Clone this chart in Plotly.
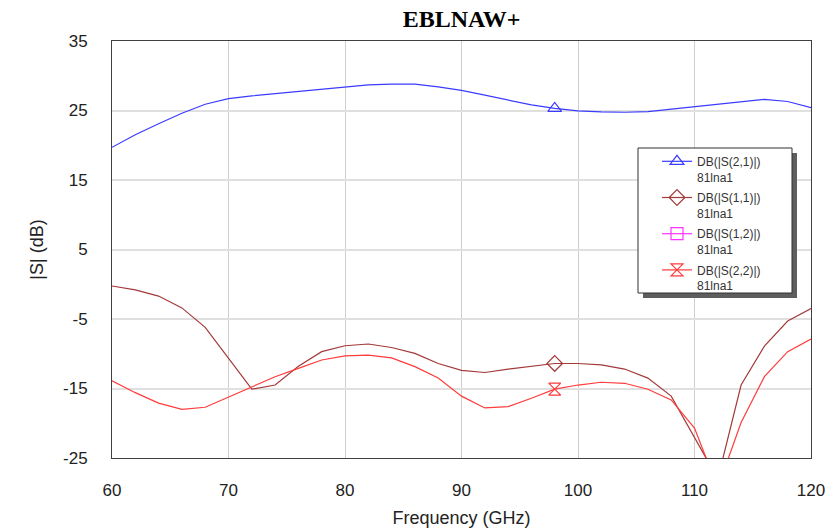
import plotly.graph_objects as go

# Frequency sweep (GHz) and S-parameter magnitudes (dB) of the 81lna1 amplifier
freq_ghz = [60, 62, 64, 66, 68, 70, 72, 74, 76, 78, 80, 82, 84, 86, 88, 90,
            92, 94, 96, 98, 100, 102, 104, 106, 108, 110, 112, 114, 116, 118, 120]

s21_db = [19.7, 21.5, 23.1, 24.6, 25.9, 26.7, 27.1, 27.4, 27.7, 28.0, 28.4,
          28.7, 28.8, 28.8, 28.4, 27.9, 27.2, 26.5, 25.8, 25.3, 24.95, 24.8,
          24.75, 24.85, 25.2, 25.55, 25.95, 26.35, 26.6, 26.3, 25.4]

s11_db = [-0.25, -0.8, -1.7, -3.4, -6.2, -10.6, -15.1, -14.5, -11.8, -9.7, -8.85,
          -8.6, -9.1, -9.95, -11.4, -12.4, -12.7, -12.2, -11.8, -11.4, -11.4, -11.6,
          -12.2, -13.5, -16.1, -21.9, -28.0, -14.5, -8.9, -5.3, -3.5]

s22_db = [-13.9, -15.6, -17.1, -18.0, -17.7, -16.2, -14.7, -13.3, -12.1, -10.9, -10.3,
          -10.2, -10.6, -11.85, -13.5, -16.1, -17.8, -17.6, -16.4, -15.1, -14.5, -14.1,
          -14.25, -15.1, -16.65, -20.7, -29.3, -19.9, -13.3, -9.7, -7.9]

# S(1,2) stays below the plotted floor over the whole sweep
s12_db = []

marker_freq = 98
y_ticks = [-25, -15, -5, 5, 15, 25, 35]
y_tick_text = ["-25", "-15", "-5", "5", "15", "25", "35"]
x_ticks = [60, 70, 80, 90, 100, 110, 120]

series = [
    ("DB(|S(2,1)|)", s21_db, "#3b3bff", "triangle-up-open"),
    ("DB(|S(1,1)|)", s11_db, "#a33a3a", "diamond-open"),
    ("DB(|S(1,2)|)", s12_db, "#ff33ff", "square-open"),
    ("DB(|S(2,2)|)", s22_db, "#ff3b3b", "hourglass-open"),
]

fig = go.Figure()
mi = freq_ghz.index(marker_freq)
for i, (name, vals, color, sym) in enumerate(series):
    if vals:
        fig.add_trace(go.Scatter(
            x=freq_ghz, y=vals, mode="lines", showlegend=False,
            line=dict(color=color, width=1.2), hoverinfo="skip"))
        mx, my = [freq_ghz[mi]], [vals[mi]]
    else:
        mx, my = [None], [None]
    # one marker per curve; this trace also carries the legend entry
    fig.add_trace(go.Scatter(
        x=mx, y=my, mode="lines+markers", name=name + "<br>81lna1",
        legendgroup=f"g{i}",
        line=dict(color=color, width=1.2),
        marker=dict(symbol=sym, size=12, color=color, line=dict(width=1.2, color=color))))

font_family = "Liberation Sans, Arial, sans-serif"

# legend frame with drop shadow (pixel geometry converted to paper units)
L, R, T, B = 112, 811, 41, 458
pw, ph = R - L, B - T
def px(x):
    return (x - L) / pw
def py(y):
    return 1 - (y - T) / ph

box = (638, 148, 792, 293)
fig.add_shape(type="rect", xref="paper", yref="paper",
              x0=px(box[0] + 5), x1=px(box[2] + 5), y0=py(box[1] + 5), y1=py(box[3] + 5),
              fillcolor="#5e5e5e", line=dict(width=0), layer="above")
fig.add_shape(type="rect", xref="paper", yref="paper",
              x0=px(box[0]), x1=px(box[2]), y0=py(box[1]), y1=py(box[3]),
              fillcolor="white", line=dict(color="#303030", width=1), layer="above")

fig.update_layout(
    width=829, height=532,
    margin=dict(l=L, r=829 - R, t=T, b=532 - B),
    paper_bgcolor="white", plot_bgcolor="white",
    title=dict(text="<b>EBLNAW+</b>", x=(L + R) / 2 / 829, xanchor="center",
               y=1 - 19 / 532, yanchor="middle",
               font=dict(family="Liberation Serif, Times New Roman, serif", size=24, color="black")),
    showlegend=True,
    legend=dict(x=px(box[0] + 19), y=py(box[1] - 1), xanchor="left", yanchor="top",
                bgcolor="rgba(0,0,0,0)", borderwidth=0,
                font=dict(family=font_family, size=12, color="#333333"),
                valign="top", tracegroupgap=2, itemwidth=30),
    xaxis=dict(range=[60, 120], tickvals=x_ticks, showgrid=True, gridcolor="#cfcfcf", gridwidth=1,
               showline=True, mirror=True, linecolor="#404040", linewidth=1,
               zeroline=False, ticks="", ticklabelstandoff=17, automargin=False,
               tickfont=dict(family=font_family, size=17, color="#222222"),
               title=dict(text="Frequency (GHz)", standoff=11,
                          font=dict(family=font_family, size=18, color="#222222"))),
    yaxis=dict(range=[-25, 35], tickvals=y_ticks, ticktext=y_tick_text,
               showgrid=True, gridcolor="#e0e0e0", gridwidth=2,
               showline=True, mirror=True, linecolor="#404040", linewidth=1,
               zeroline=False, ticks="", ticklabelstandoff=20, automargin=False,
               tickfont=dict(family=font_family, size=17, color="#222222"),
               title=dict(text="|S| (dB)", standoff=14,
                          font=dict(family=font_family, size=18, color="#222222"))),
)

fig.write_html("out.html")
